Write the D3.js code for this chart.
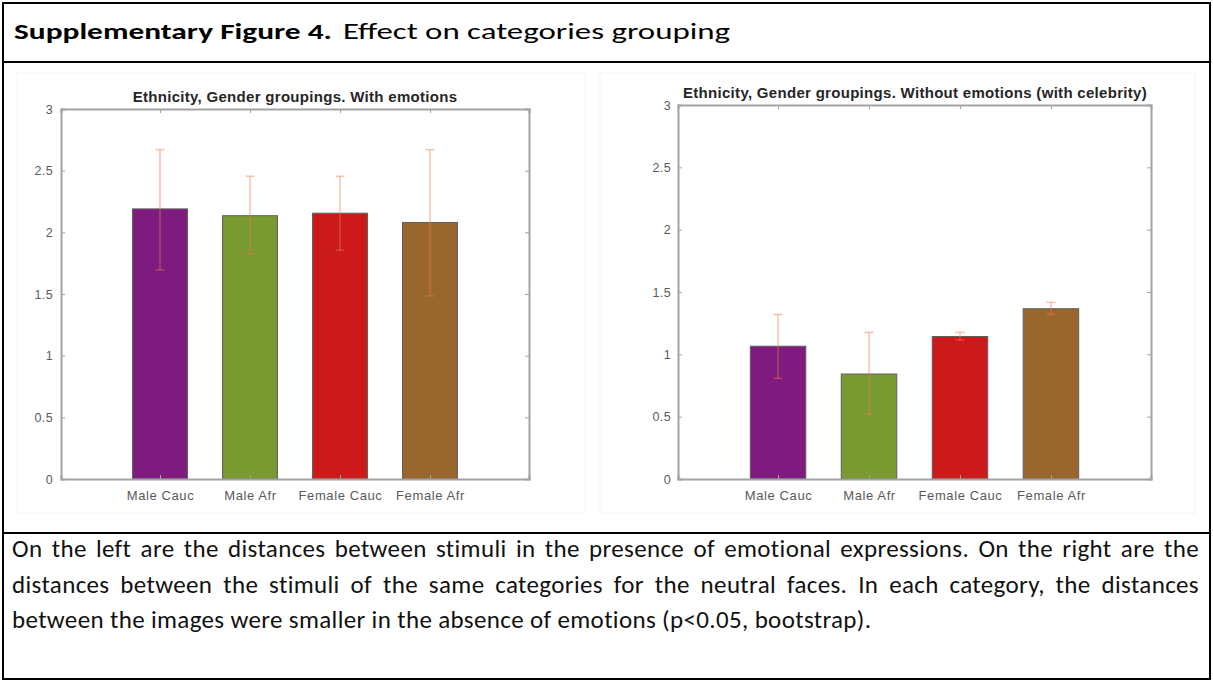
<!DOCTYPE html>
<html>
<head>
<meta charset="utf-8">
<script src="https://cdnjs.cloudflare.com/ajax/libs/d3/7.8.5/d3.min.js"></script>
<style>
  body { margin: 0; background: #fff; }
  svg { display: block; }
</style>
</head>
<body>
<div id="fig"></div>
<script>
// categories and values
var categories = ["Male Cauc", "Male Afr", "Female Cauc", "Female Afr"];
var barColors = ["#7f1a7f", "#789a31", "#cc1a1a", "#99662e"];
var yTicks = [0, 0.5, 1, 1.5, 2, 2.5, 3];
var yTickLabels = ["0", "0.5", "1", "1.5", "2", "2.5", "3"];

// with emotions
var emoMean = [2.19, 2.135, 2.155, 2.08];
var emoLow = [1.695, 1.825, 1.855, 1.485];
var emoHigh = [2.67, 2.455, 2.455, 2.67];

// without emotions (with celebrity)
var neuMean = [1.065, 0.842, 1.143, 1.366];
var neuLow = [0.807, 0.52, 1.115, 1.32];
var neuHigh = [1.32, 1.176, 1.176, 1.417];

var captionLines = [
  "On the left are the distances between stimuli in the presence of emotional expressions. On the right are the",
  "distances between the stimuli of the same categories for the neutral faces. In each category, the distances",
  "between the images were smaller in the absence of emotions (p<0.05, bootstrap)."
];

var W = 1213, H = 682;
var svg = d3.select("#fig").append("svg")
  .attr("width", W)
  .attr("height", H);

// table frame
svg.append("rect")
  .attr("x", 3).attr("y", 3)
  .attr("width", W - 6).attr("height", H - 6)
  .attr("fill", "none").attr("stroke", "#000").attr("stroke-width", 2);
svg.append("line").attr("x1", 3).attr("x2", W - 3).attr("y1", 62).attr("y2", 62)
  .attr("stroke", "#000").attr("stroke-width", 2);
svg.append("line").attr("x1", 3).attr("x2", W - 3).attr("y1", 533).attr("y2", 533)
  .attr("stroke", "#000").attr("stroke-width", 2);

var docFont = "Carlito, Calibri, Lato, sans-serif";

// heading
svg.append("text")
  .attr("x", 14).attr("y", 39)
  .attr("font-family", docFont).attr("font-size", 22).attr("font-weight", "bold")
  .attr("textLength", 318).attr("lengthAdjust", "spacingAndGlyphs")
  .text("Supplementary Figure 4.");
svg.append("text")
  .attr("x", 343).attr("y", 39)
  .attr("font-family", docFont).attr("font-size", 22)
  .attr("textLength", 387).attr("lengthAdjust", "spacingAndGlyphs")
  .text("Effect on categories grouping");

// caption: first two lines justified to the cell width
var caption = svg.selectAll(".caption")
  .data(captionLines)
  .enter().append("text")
  .attr("class", "caption")
  .attr("x", 12)
  .attr("y", function(d, i) { return 557 + i * 35.5; })
  .attr("font-family", docFont).attr("font-size", 18)
  .attr("fill", "#111")
  .text(function(d) { return d; });

var firstNode = caption.nodes()[0];
var capSize = 18 * 1090 / firstNode.getComputedTextLength();
caption.attr("font-size", capSize).attr("letter-spacing", 0.35);
caption.each(function(d, i) {
  if (i === 2) return;
  var natural = this.getComputedTextLength();
  var gaps = d.split(" ").length - 1;
  d3.select(this).attr("word-spacing", (1187 - natural) / gaps);
});

function drawPanel(opt) {
  var g = svg.append("g");

  // faint pasted-image background
  g.append("rect")
    .attr("x", opt.img[0]).attr("y", opt.img[1])
    .attr("width", opt.img[2]).attr("height", opt.img[3])
    .attr("fill", "#fff").attr("stroke", "#f5f5f5");

  var x = d3.scaleLinear().domain([-0.1, 5.1]).range([opt.left, opt.right]);
  var y = d3.scaleLinear().domain([0, 3]).range([opt.bottom, opt.top]);
  var bw = 0.61;
  var pos = categories.map(function(d, i) { return i + 1; });

  var axisColor = "#a3a3a3";
  var font = "'Liberation Sans', Arial, sans-serif";

  // bars
  g.selectAll(".bar")
    .data(opt.mean)
    .enter().append("rect")
    .attr("x", function(d, i) { return x(pos[i] - bw / 2); })
    .attr("y", function(d) { return y(d); })
    .attr("width", x(bw) - x(0))
    .attr("height", function(d) { return y(0) - y(d); })
    .attr("fill", function(d, i) { return barColors[i]; })
    .attr("stroke", "#5f5f5f")
    .attr("stroke-width", 1);

  // axes (box on)
  var left = g.append("g")
    .attr("transform", "translate(" + opt.left + ",0)")
    .call(d3.axisLeft(y).tickValues(yTicks).tickFormat(function(d, i) { return yTickLabels[i]; })
      .tickSize(-4).tickPadding(opt.pad));
  var right = g.append("g")
    .attr("transform", "translate(" + opt.right + ",0)")
    .call(d3.axisRight(y).tickValues(yTicks).tickSize(-4).tickFormat(""));
  var top = g.append("g")
    .attr("transform", "translate(0," + opt.top + ")")
    .call(d3.axisTop(x).tickValues(pos).tickSize(-4).tickFormat(""));
  var bottom = g.append("g")
    .attr("transform", "translate(0," + opt.bottom + ")")
    .call(d3.axisBottom(x).tickValues(pos).tickSize(-4).tickPadding(12)
      .tickFormat(function(d, i) { return categories[i]; }));

  [left, right, top, bottom].forEach(function(a) {
    a.select(".domain").attr("stroke", axisColor).attr("stroke-width", 2);
    a.selectAll(".tick line").attr("stroke", axisColor).attr("stroke-width", 1);
    a.selectAll(".tick text")
      .attr("fill", "#5a5a5a")
      .attr("font-family", font)
      .attr("font-size", 12.5)
      .attr("letter-spacing", 0.4);
  });
  bottom.selectAll(".tick text").attr("font-size", 13).attr("letter-spacing", 0.6);

  // error bars
  var cap = 0.05;
  var err = g.selectAll(".err")
    .data(opt.mean)
    .enter().append("g")
    .attr("stroke", "#f27a52")
    .attr("stroke-opacity", 0.45)
    .attr("stroke-width", 1.5);
  err.append("line")
    .attr("x1", function(d, i) { return x(pos[i]); })
    .attr("x2", function(d, i) { return x(pos[i]); })
    .attr("y1", function(d, i) { return y(opt.low[i]); })
    .attr("y2", function(d, i) { return y(opt.high[i]); });
  err.append("line")
    .attr("x1", function(d, i) { return x(pos[i] - cap); })
    .attr("x2", function(d, i) { return x(pos[i] + cap); })
    .attr("y1", function(d, i) { return y(opt.high[i]); })
    .attr("y2", function(d, i) { return y(opt.high[i]); });
  err.append("line")
    .attr("x1", function(d, i) { return x(pos[i] - cap); })
    .attr("x2", function(d, i) { return x(pos[i] + cap); })
    .attr("y1", function(d, i) { return y(opt.low[i]); })
    .attr("y2", function(d, i) { return y(opt.low[i]); });

  // title
  g.append("text")
    .attr("x", opt.titleX)
    .attr("y", opt.titleY)
    .attr("text-anchor", "middle")
    .attr("font-family", font)
    .attr("font-weight", "bold")
    .attr("font-size", 15)
    .attr("letter-spacing", 0.3)
    .attr("fill", "#262626")
    .text(opt.title);
}

drawPanel({
  title: "Ethnicity, Gender groupings. With emotions",
  mean: emoMean, low: emoLow, high: emoHigh,
  left: 61, right: 529, top: 109, bottom: 479,
  pad: 8, titleX: 295, titleY: 102,
  img: [17, 73, 568, 440]
});

drawPanel({
  title: "Ethnicity, Gender groupings. Without emotions (with celebrity)",
  mean: neuMean, low: neuLow, high: neuHigh,
  left: 678, right: 1151, top: 105, bottom: 479,
  pad: 7, titleX: 915, titleY: 98,
  img: [600, 73, 595, 440]
});
</script>
</body>
</html>
